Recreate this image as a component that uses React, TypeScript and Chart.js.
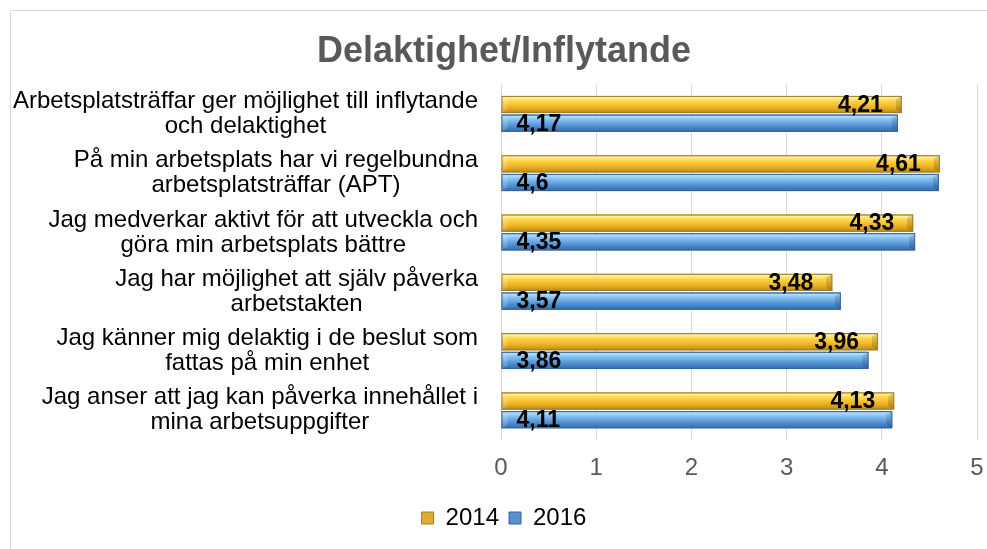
import React, { useEffect, useRef } from "react";
import { Chart, registerables } from "chart.js";

Chart.register(...registerables);

const TITLE = "Delaktighet/Inflytande";
const categories: string[][] = [
  ["Arbetsplatsträffar ger möjlighet till inflytande", "och delaktighet"],
  ["På min arbetsplats har vi regelbundna", "arbetsplatsträffar (APT)"],
  ["Jag medverkar aktivt för att utveckla och", "göra min arbetsplats bättre"],
  ["Jag har möjlighet att själv påverka", "arbetstakten"],
  ["Jag känner mig delaktig i de beslut som", "fattas på min enhet"],
  ["Jag anser att jag kan påverka innehållet i", "mina arbetsuppgifter"],
];
const seriesNames = ["2014", "2016"];
const values2014 = [4.21, 4.61, 4.33, 3.48, 3.96, 4.13];
const values2016 = [4.17, 4.6, 4.35, 3.57, 3.86, 4.11];
const xTicks = [0, 1, 2, 3, 4, 5];

const FONT = "'Liberation Sans', Arial, sans-serif";

const gradStops: [number, string][][] = [
  [
    [0, "#e3b538"],
    [0.1, "#fff0a0"],
    [0.3, "#ffd64a"],
    [0.65, "#f0b323"],
    [1, "#b88a1a"],
  ],
  [
    [0, "#5f98d4"],
    [0.1, "#b5dcf8"],
    [0.3, "#84c0ef"],
    [0.65, "#5293d6"],
    [1, "#336aa6"],
  ],
];
const borderCols = ["#a07e28", "#33669c"];

const barStylePlugin = {
  id: "barStyle",
  afterDatasetDraw(chart: any, args: any) {
    const ctx = chart.ctx;
    const meta = args.meta;
    const stops = gradStops[args.index];
    ctx.save();
    meta.data.forEach((el: any) => {
      const p = el.getProps(["x", "y", "base", "height"], true);
      const left = Math.min(p.base, p.x);
      const right = Math.max(p.base, p.x);
      const top = p.y - p.height / 2;
      const h = p.height;
      const g = ctx.createLinearGradient(0, top, 0, top + h);
      stops.forEach(([o, c]) => g.addColorStop(o, c));
      ctx.fillStyle = g;
      ctx.fillRect(left, top, right - left, h);
      // bevel ends
      const bw = Math.min(6, (right - left) / 4);
      ctx.fillStyle = "rgba(0,0,0,0.14)";
      ctx.beginPath();
      ctx.moveTo(right, top);
      ctx.lineTo(right - bw, top + bw * 0.6);
      ctx.lineTo(right - bw, top + h - bw * 0.6);
      ctx.lineTo(right, top + h);
      ctx.closePath();
      ctx.fill();
      ctx.fillStyle = "rgba(255,255,255,0.18)";
      ctx.beginPath();
      ctx.moveTo(left, top);
      ctx.lineTo(left + bw, top + bw * 0.6);
      ctx.lineTo(left + bw, top + h - bw * 0.6);
      ctx.lineTo(left, top + h);
      ctx.closePath();
      ctx.fill();
      ctx.strokeStyle = borderCols[args.index];
      ctx.lineWidth = 1;
      ctx.strokeRect(left + 0.5, top + 0.5, right - left - 1, h - 1);
    });
    ctx.restore();
  },
  afterDatasetsDraw(chart: any) {
    const ctx = chart.ctx;
    ctx.save();
    ctx.font = `bold 23px ${FONT}`;
    ctx.fillStyle = "#000";
    ctx.textBaseline = "middle";
    chart.data.datasets.forEach((ds: any, di: number) => {
      const meta = chart.getDatasetMeta(di);
      meta.data.forEach((el: any, i: number) => {
        const p = el.getProps(["x", "y", "base"], true);
        const txt = String(ds.data[i]).replace(".", ",");
        if (di === 0) {
          ctx.textAlign = "right";
          ctx.fillText(txt, p.x - 19, p.y + 1);
        } else {
          ctx.textAlign = "left";
          ctx.fillText(txt, p.base + 15, p.y + 1);
        }
      });
    });
    ctx.restore();
  },
  afterDraw(chart: any) {
    const ctx = chart.ctx;
    const yScale = chart.scales.y;
    const right = chart.chartArea.left - 23;
    ctx.save();
    ctx.font = `24px ${FONT}`;
    ctx.fillStyle = "#000";
    ctx.textBaseline = "middle";
    ctx.textAlign = "center";
    const lh = 25;
    categories.forEach((lines, i) => {
      const cy = yScale.getPixelForTick(i);
      const maxW = Math.max(...lines.map((l) => ctx.measureText(l).width));
      const cx = right - maxW / 2;
      const startY = cy - ((lines.length - 1) * lh) / 2;
      lines.forEach((l, j) => ctx.fillText(l, cx, startY + j * lh));
    });
    ctx.restore();
  },
};

export default function App() {
  const ref = useRef<HTMLCanvasElement>(null);
  useEffect(() => {
    if (!ref.current) return;
    const chart = new Chart(ref.current, {
      type: "bar",
      data: {
        labels: categories.map((c) => c.join(" ")),
        datasets: [
          {
            label: seriesNames[0],
            data: values2014,
            backgroundColor: "#deae30",
            borderColor: "#a07e28",
            borderWidth: 1,
            categoryPercentage: 0.63,
            barPercentage: 0.92,
          },
          {
            label: seriesNames[1],
            data: values2016,
            backgroundColor: "#5690cf",
            borderColor: "#33669c",
            borderWidth: 1,
            categoryPercentage: 0.63,
            barPercentage: 0.92,
          },
        ],
      },
      options: {
        indexAxis: "y",
        responsive: false,
        animation: false,
        layout: { padding: { left: 20, right: 21, top: 0, bottom: 20 } },
        plugins: {
          title: {
            display: true,
            text: TITLE,
            color: "#595959",
            font: { family: FONT, size: 36, weight: "bold" },
            padding: { top: 19, bottom: 11 },
          },
          legend: {
            display: true,
            position: "bottom",
            labels: {
              color: "#000",
              font: { family: FONT, size: 24 },
              boxWidth: 12,
              boxHeight: 12,
              padding: 10,
            },
          },
          tooltip: { enabled: false },
        },
        scales: {
          x: {
            min: 0,
            max: 5,
            afterBuildTicks: (s: any) => {
              s.ticks = xTicks.map((v) => ({ value: v }));
            },
            afterFit: (s: any) => {
              s.height = 56;
            },
            grid: { color: "#d9d9d9", lineWidth: 1, drawTicks: false },
            border: { display: false },
            ticks: {
              color: "#595959",
              font: { family: FONT, size: 24 },
              padding: 14,
            },
          },
          y: {
            afterFit: (s: any) => {
              s.width = 470;
            },
            grid: { display: false },
            border: { display: false },
            ticks: { display: false },
          },
        },
      },
      plugins: [barStylePlugin],
    } as any);
    return () => chart.destroy();
  }, []);
  return (
    <div
      style={{
        position: "fixed",
        left: 0,
        top: 0,
        width: 987,
        height: 549,
        overflow: "hidden",
        background: "#fff",
      }}
    >
      <div
        style={{
          position: "absolute",
          left: 10,
          top: 10,
          width: 1000,
          height: 560,
          borderLeft: "1px solid #d9d9d9",
          borderTop: "1px solid #d9d9d9",
        }}
      >
        <canvas ref={ref} width={987} height={549} style={{ display: "block" }} />
      </div>
    </div>
  );
}
